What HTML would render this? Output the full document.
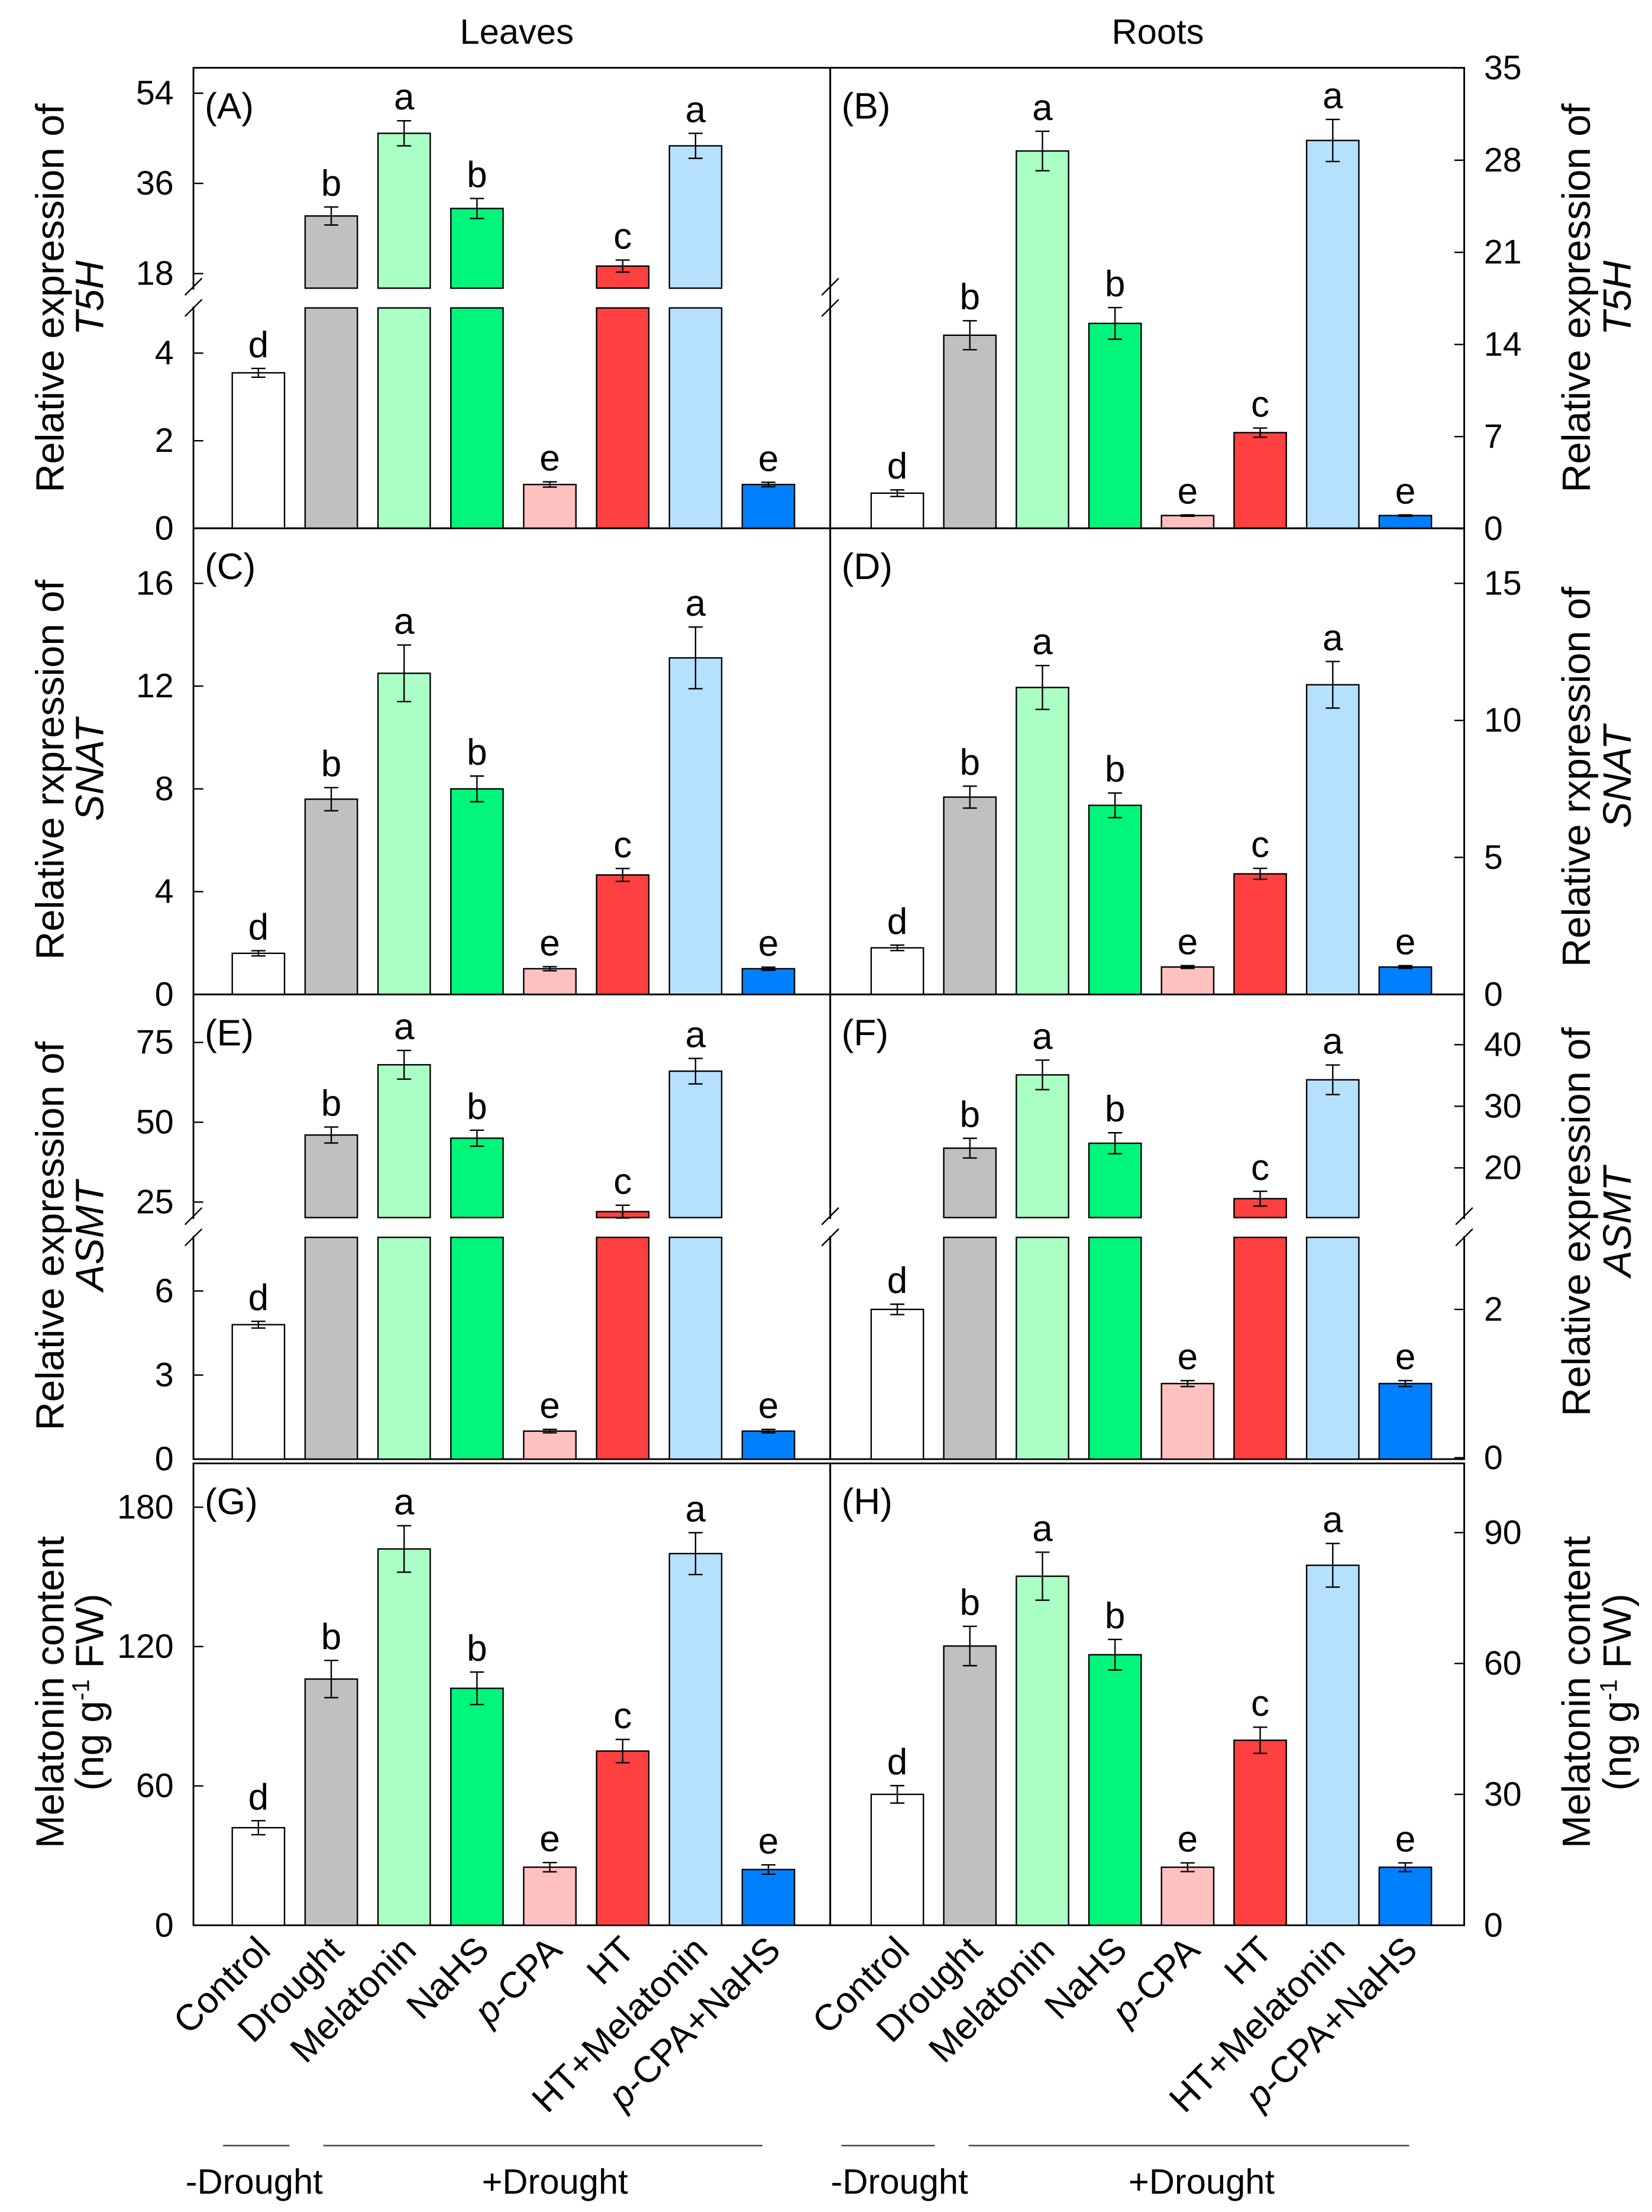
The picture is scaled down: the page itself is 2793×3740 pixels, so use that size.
<!DOCTYPE html>
<html><head><meta charset="utf-8"><style>
html,body{margin:0;padding:0;background:#fff}
svg{display:block}
text{font-family:"Liberation Sans",Arial,sans-serif;fill:#000}
</style></head><body>
<svg id="fig" width="2793" height="3740" viewBox="0 0 1170 1566" preserveAspectRatio="none" xmlns="http://www.w3.org/2000/svg">
<text x="366" y="31" font-size="25" text-anchor="middle">Leaves</text>
<text x="820" y="31" font-size="25" text-anchor="middle">Roots</text>
</svg>
<script>
const categories=['Control','Drought','Melatonin','NaHS','p-CPA','HT','HT+Melatonin','p-CPA+NaHS'];
const letters=['d','b','a','b','e','c','a','e'];
const colors=['#ffffff','#c0c0c0','#aaffc4','#00f57a','#ffc0c0','#ff4040','#b5e1ff','#0080ff'];
const aValues=[3.55,29.5,46,31,1.0,19.5,43.5,1.0];
const aErrors=[0.1,1.8,2.5,2.0,0.06,1.2,2.5,0.05];
const bValues=[2.7,14.7,28.7,15.6,1.0,7.3,29.5,1.0];
const bErrors=[0.25,1.1,1.5,1.2,0.05,0.35,1.6,0.05];
const cValues=[1.6,7.6,12.5,8.0,1.0,4.65,13.1,1.0];
const cErrors=[0.1,0.45,1.1,0.5,0.08,0.25,1.2,0.06];
const dValues=[1.7,7.2,11.2,6.9,1.0,4.4,11.3,1.0];
const dErrors=[0.1,0.4,0.8,0.45,0.05,0.2,0.85,0.05];
const eValues=[4.8,46,68,45,1.0,22,66,1.0];
const eErrors=[0.12,2.5,4.5,2.5,0.06,2,4,0.06];
const fValues=[2.0,23.2,35.1,24.0,1.0,15.0,34.3,1.0];
const fErrors=[0.07,1.6,2.4,1.7,0.04,1.2,2.4,0.04];
const gValues=[42,106,162,102,25,75,160,24];
const gErrors=[3,8,10,7,2,5,9,2];
const hValues=[30,64,80,62,13.3,42.4,82.5,13.3];
const hErrors=[2,4.5,5.5,3.5,1,3,5,1];
const aTicksLow=[0,2,4], aTicksHigh=[18,36,54];
const bTicks=[0,7,14,21,28,35];
const cTicks=[0,4,8,12,16];
const dTicks=[0,5,10,15];
const eTicksLow=[0,3,6], eTicksHigh=[25,50,75];
const fTicksLow=[0,2], fTicksHigh=[20,30,40];
const gTicks=[0,60,120,180];
const hTicks=[0,30,60,90];

const svg=document.getElementById('fig');
const NS='http://www.w3.org/2000/svg';
function mk(tag,at,parent){const e=document.createElementNS(NS,tag);for(const k in at)e.setAttribute(k,at[k]);(parent||svg).appendChild(e);return e;}
function linScale(v0,y0,v1,y1){return v=>y0+(v-v0)*(y1-y0)/(v1-v0);}

const panels=[
 {id:'A',x0:137,x1:588,top:48,bot:374,side:'left',vals:aValues,errs:aErrors,
  low:linScale(0,374,4,250),high:linScale(18,193.7,54,66),lowTop:218,highBot:204,lim:5,ticksLow:aTicksLow,ticksHigh:aTicksHigh,
  title:['Relative expression of','T5H'],tc:211},
 {id:'B',x0:588,x1:1037,top:48,bot:374,side:'right',vals:bValues,errs:bErrors,
  low:linScale(0,374.3,35,48.2),ticksLow:bTicks,title:['Relative expression of','T5H'],tc:211},
 {id:'C',x0:137,x1:588,top:374,bot:704,side:'left',vals:cValues,errs:cErrors,
  low:linScale(0,704,16,413),ticksLow:cTicks,title:['Relative rxpression of','SNAT'],tc:545},
 {id:'D',x0:588,x1:1037,top:374,bot:704,side:'right',vals:dValues,errs:dErrors,
  low:linScale(0,704,15,413),ticksLow:dTicks,title:['Relative rxpression of','SNAT'],tc:550},
 {id:'E',x0:137,x1:588,top:704,bot:1033,side:'left',vals:eValues,errs:eErrors,
  low:linScale(0,1033,6,914),high:linScale(25,851,75,738),lowTop:876,highBot:862,lim:8,ticksLow:eTicksLow,ticksHigh:eTicksHigh,
  title:['Relative expression of','ASMT'],tc:875},
 {id:'F',x0:588,x1:1037,top:704,bot:1033,side:'right',vals:fValues,errs:fErrors,
  low:linScale(0,1032,2,927),high:linScale(20,826.8,40,739.6),lowTop:876,highBot:862,lim:3,ticksLow:fTicksLow,ticksHigh:fTicksHigh,
  title:['Relative expression of','ASMT'],tc:865},
 {id:'G',x0:137,x1:588,top:1036,bot:1363,side:'left',vals:gValues,errs:gErrors,
  low:linScale(0,1363,180,1067),ticksLow:gTicks,title:['Melatonin content','(ng g-1 FW)'],tc:1198},
 {id:'H',x0:588,x1:1037,top:1036,bot:1363,side:'right',vals:hValues,errs:hErrors,
  low:linScale(0,1363,90,1085),ticksLow:hTicks,title:['Melatonin content','(ng g-1 FW)'],tc:1198}
];

panels.forEach(p=>{
  const key=p.id.toLowerCase();
  const broken=!!p.high;
  const fr=mk('rect',{x:p.x0,y:p.top,width:p.x1-p.x0,height:p.bot-p.top,fill:'none',stroke:'#000','stroke-width':1.2});
  
  
  const c0=p.side==='left'?183:635.5;
  const pitch=p.side==='left'?51.6:51.4;
  const bw=37;
  p.vals.forEach((v,i)=>{
    const cx=c0+i*pitch;
    let topY,eT,eB;
    if(broken && v>p.lim){
      const r1=mk('rect',{x:cx-bw/2,y:p.lowTop,width:bw,height:p.bot-p.lowTop,fill:colors[i],stroke:'#000','stroke-width':1});
      
      
      topY=p.high(v);
      const r2=mk('rect',{x:cx-bw/2,y:topY,width:bw,height:p.highBot-topY,fill:colors[i],stroke:'#000','stroke-width':1});
      
      
      eT=p.high(v+p.errs[i]);eB=p.high(v-p.errs[i]);
    } else {
      topY=p.low(v);
      const r=mk('rect',{x:cx-bw/2,y:topY,width:bw,height:p.bot-topY,fill:colors[i],stroke:'#000','stroke-width':1});
      
      
      eT=p.low(v+p.errs[i]);eB=p.low(v-p.errs[i]);
    }
    const eb=mk('path',{d:`M${cx},${eT}V${eB}M${cx-5},${eT}H${cx+5}M${cx-5},${eB}H${cx+5}`,stroke:'#000','stroke-width':1,fill:'none'});
    
    
    const lt=mk('text',{x:cx,y:Math.min(eT,topY)-8,'font-size':26,'text-anchor':'middle'});
    lt.textContent=letters[i];
    
    
  });
  if(broken){
    [p.x0,p.x1].forEach(bx=>{
      const g=mk('rect',{x:bx-2,y:p.highBot+1,width:4,height:p.lowTop-p.highBot-2,fill:'#fff'});
      
      
      const s=mk('path',{d:`M${bx-6},${p.highBot+5}L${bx+6},${p.highBot-7}M${bx-6},${p.lowTop+6}L${bx+6},${p.lowTop-6}`,stroke:'#000','stroke-width':1,fill:'none'});
      
      
    });
  }
  const ax=p.side==='left'?p.x0:p.x1;
  const dir=p.side==='left'?1:-1;
  const tickSets=[[p.ticksLow,p.low]];
  if(broken)tickSets.push([p.ticksHigh,p.high]);
  tickSets.forEach(([ticks,sc])=>{
    ticks.forEach(t=>{
      const y=sc(t);
      const tk=mk('line',{x1:ax,x2:ax+dir*7,y1:y,y2:y,stroke:'#000','stroke-width':1});
      
      
      const tl=mk('text',{x:p.side==='left'?ax-14:ax+14,y:y+8,'font-size':24,'text-anchor':p.side==='left'?'end':'start'});
      tl.textContent=t;
      
      
    });
  });
  const pl=mk('text',{x:p.x0+8,y:p.top+36,'font-size':26});
  pl.textContent='('+p.id+')';
  
  
  const tx1=p.side==='left'?45:1126;
  const tx2=p.side==='left'?73:1155;
  const t1=mk('text',{x:0,y:0,'font-size':28,'text-anchor':'middle',transform:`translate(${tx1},${p.tc}) rotate(-90)`});
  t1.textContent=p.title[0];
  
  
  const t2=mk('text',{x:0,y:0,'font-size':28,'text-anchor':'middle',transform:`translate(${tx2},${p.tc}) rotate(-90)`});
  if(p.title[1].indexOf('ng g-1')>=0){
    t2.innerHTML='(ng g<tspan dy="-10" font-size="17">-1</tspan><tspan dy="10"> FW)</tspan>';
  } else { t2.setAttribute('font-style','italic'); t2.textContent=p.title[1]; }
  
  
});

[183,635.5].forEach((c0,side)=>{
  const pitch=side===0?51.6:51.4;
  categories.forEach((c,i)=>{
    const cx=c0+i*pitch+10;
    const t=mk('text',{x:0,y:0,'font-size':26,'text-anchor':'end',transform:`translate(${cx},1382) rotate(-45)`});
    if(c.startsWith('p-'))t.innerHTML='<tspan font-style="italic">p</tspan>'+c.slice(1);
    else t.textContent=c;
    
    
  });
});
const groups=[[158,205,180,'-Drought'],[229,540,393,'+Drought'],[596,662,637,'-Drought'],[686,998,851,'+Drought']];
groups.forEach((g,i)=>{
  const l=mk('line',{x1:g[0],x2:g[1],y1:1519,y2:1519,stroke:'#444','stroke-width':1});
  
  
  const t=mk('text',{x:g[2],y:1553,'font-size':25,'text-anchor':'middle'});
  t.textContent=g[3];
  
  
});
</script>
</body></html>
